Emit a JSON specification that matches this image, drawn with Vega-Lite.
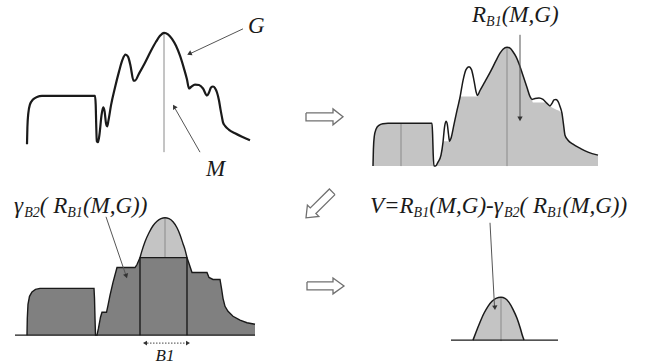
{
  "$schema": "https://vega.github.io/schema/vega-lite/v6.json",
  "width": 646,
  "height": 364,
  "padding": 0,
  "autosize": {"type": "fit", "contains": "padding"},
  "background": "white",
  "config": {"view": {"stroke": null}},
  "encoding": {
    "x": {"field": "x", "type": "quantitative", "scale": {"domain": [0, 646], "nice": false, "zero": false}, "axis": null},
    "y": {"field": "y", "type": "quantitative", "scale": {"domain": [0, 364], "nice": false, "zero": false, "reverse": true}, "axis": null}
  },
  "datasets": {
    "tlCurve": [
      {"x": 27, "y": 145}, {"x": 27.4, "y": 128}, {"x": 28.3, "y": 114}, {"x": 30, "y": 105}, {"x": 33, "y": 100}, {"x": 37, "y": 97.5}, {"x": 42, "y": 96.5}, {"x": 95, "y": 96.5}, {"x": 95.7, "y": 105}, {"x": 96.2, "y": 125}, {"x": 96.8, "y": 142}, {"x": 98, "y": 143}, {"x": 99.5, "y": 135}, {"x": 101.5, "y": 116}, {"x": 103.2, "y": 108}, {"x": 104.6, "y": 112}, {"x": 106, "y": 124}, {"x": 107.2, "y": 127}, {"x": 108.5, "y": 121}, {"x": 111, "y": 106}, {"x": 115, "y": 88}, {"x": 119, "y": 72}, {"x": 122.5, "y": 60}, {"x": 125.5, "y": 55}, {"x": 128, "y": 57}, {"x": 130.5, "y": 66}, {"x": 133.5, "y": 81}, {"x": 135, "y": 81}, {"x": 139, "y": 74}, {"x": 145, "y": 63}, {"x": 151, "y": 51}, {"x": 156, "y": 42}, {"x": 160, "y": 36}, {"x": 164, "y": 33}, {"x": 168, "y": 34.5}, {"x": 172, "y": 39}, {"x": 176, "y": 46}, {"x": 180, "y": 56}, {"x": 184, "y": 69}, {"x": 187, "y": 80}, {"x": 189, "y": 89}, {"x": 191, "y": 87.5}, {"x": 195, "y": 85}, {"x": 199, "y": 85.5}, {"x": 203, "y": 89}, {"x": 207, "y": 96}, {"x": 209, "y": 93}, {"x": 211, "y": 88}, {"x": 213, "y": 87}, {"x": 215, "y": 88.5}, {"x": 217, "y": 93}, {"x": 219, "y": 101}, {"x": 220.5, "y": 110}, {"x": 222, "y": 118}, {"x": 223, "y": 123}, {"x": 225, "y": 126.5}, {"x": 229, "y": 130.5}, {"x": 235, "y": 134}, {"x": 242, "y": 137.5}, {"x": 250, "y": 141}
    ],
    "trOutline": [
      {"x": 373, "y": 167}, {"x": 373.4, "y": 150}, {"x": 374.3, "y": 137}, {"x": 376, "y": 130}, {"x": 379, "y": 126}, {"x": 383, "y": 124.5}, {"x": 388, "y": 124}, {"x": 432, "y": 124}, {"x": 432.6, "y": 135}, {"x": 433.2, "y": 155}, {"x": 434, "y": 167}, {"x": 435.5, "y": 167}, {"x": 438, "y": 163}, {"x": 441, "y": 156}, {"x": 443, "y": 143}, {"x": 444.5, "y": 128}, {"x": 446, "y": 122}, {"x": 447.3, "y": 125}, {"x": 448.5, "y": 135}, {"x": 449.5, "y": 142}, {"x": 451, "y": 139}, {"x": 454, "y": 125}, {"x": 457, "y": 111}, {"x": 460, "y": 98}, {"x": 463, "y": 81}, {"x": 466, "y": 70}, {"x": 469, "y": 67}, {"x": 471.5, "y": 70}, {"x": 474, "y": 81}, {"x": 476, "y": 92}, {"x": 477.5, "y": 96}, {"x": 480, "y": 91}, {"x": 485, "y": 82}, {"x": 491, "y": 71}, {"x": 496, "y": 61}, {"x": 500, "y": 53.5}, {"x": 503, "y": 49.5}, {"x": 507, "y": 47.5}, {"x": 510, "y": 48.5}, {"x": 513, "y": 52}, {"x": 516, "y": 57}, {"x": 519, "y": 64}, {"x": 523, "y": 76}, {"x": 527, "y": 88}, {"x": 530, "y": 97}, {"x": 532, "y": 100}, {"x": 535, "y": 99}, {"x": 539, "y": 98.5}, {"x": 543, "y": 100}, {"x": 547, "y": 104}, {"x": 550, "y": 106.5}, {"x": 552, "y": 104}, {"x": 554, "y": 100.5}, {"x": 556, "y": 100}, {"x": 558, "y": 102}, {"x": 560, "y": 107}, {"x": 562, "y": 114}, {"x": 563.5, "y": 125}, {"x": 565, "y": 136}, {"x": 568, "y": 141}, {"x": 573, "y": 145}, {"x": 580, "y": 149}, {"x": 588, "y": 153}, {"x": 598, "y": 156}
    ],
    "trFill": [
      {"x": 373, "y": 167}, {"x": 373.4, "y": 150}, {"x": 374.3, "y": 137}, {"x": 376, "y": 130}, {"x": 379, "y": 126}, {"x": 383, "y": 124.5}, {"x": 388, "y": 124}, {"x": 432, "y": 124}, {"x": 432.6, "y": 135}, {"x": 433.2, "y": 155}, {"x": 434, "y": 167}, {"x": 435.5, "y": 167}, {"x": 438, "y": 163}, {"x": 441, "y": 156}, {"x": 443, "y": 143}, {"x": 444, "y": 142}, {"x": 449.5, "y": 142}, {"x": 451, "y": 139}, {"x": 454, "y": 125}, {"x": 457, "y": 111}, {"x": 460, "y": 97}, {"x": 477.5, "y": 97}, {"x": 480, "y": 91}, {"x": 485, "y": 82}, {"x": 491, "y": 71}, {"x": 496, "y": 61}, {"x": 500, "y": 53.5}, {"x": 503, "y": 49.5}, {"x": 507, "y": 47.5}, {"x": 510, "y": 48.5}, {"x": 513, "y": 52}, {"x": 516, "y": 57}, {"x": 519, "y": 64}, {"x": 523, "y": 76}, {"x": 527, "y": 88}, {"x": 530, "y": 97}, {"x": 532, "y": 101}, {"x": 533, "y": 103}, {"x": 545, "y": 103}, {"x": 547, "y": 104}, {"x": 550, "y": 106.5}, {"x": 552, "y": 108}, {"x": 556, "y": 110}, {"x": 560, "y": 112}, {"x": 562, "y": 114}, {"x": 563.5, "y": 125}, {"x": 565, "y": 136}, {"x": 568, "y": 141}, {"x": 573, "y": 145}, {"x": 580, "y": 149}, {"x": 588, "y": 153}, {"x": 598, "y": 156}
    ],
    "blDark": [
      {"x": 27, "y": 337}, {"x": 27.3, "y": 320}, {"x": 28, "y": 306}, {"x": 29.5, "y": 298}, {"x": 32, "y": 293.5}, {"x": 35.5, "y": 291}, {"x": 40, "y": 290}, {"x": 94, "y": 290}, {"x": 94.5, "y": 300}, {"x": 95, "y": 320}, {"x": 95.5, "y": 337}, {"x": 97, "y": 337}, {"x": 98.5, "y": 330}, {"x": 100.5, "y": 319}, {"x": 102, "y": 314}, {"x": 106.5, "y": 314}, {"x": 108, "y": 307}, {"x": 110, "y": 297}, {"x": 113, "y": 284}, {"x": 117, "y": 269}, {"x": 135, "y": 269}, {"x": 137, "y": 266}, {"x": 140, "y": 259}, {"x": 187, "y": 259}, {"x": 189, "y": 265}, {"x": 192, "y": 274}, {"x": 207, "y": 274}, {"x": 209, "y": 279}, {"x": 213, "y": 281}, {"x": 220, "y": 281}, {"x": 221.5, "y": 290}, {"x": 223, "y": 300}, {"x": 225, "y": 308}, {"x": 228, "y": 313}, {"x": 233, "y": 318}, {"x": 240, "y": 322}, {"x": 247, "y": 324.5}, {"x": 255, "y": 326}
    ],
    "blPeak": [
      {"x": 140, "y": 259}, {"x": 142, "y": 252}, {"x": 145, "y": 243}, {"x": 149, "y": 234}, {"x": 153, "y": 227}, {"x": 157, "y": 222.5}, {"x": 161, "y": 219.8}, {"x": 165, "y": 219}, {"x": 169, "y": 219.8}, {"x": 173, "y": 223}, {"x": 177, "y": 229}, {"x": 180, "y": 236}, {"x": 183, "y": 245}, {"x": 185, "y": 251}, {"x": 187, "y": 259}
    ],
    "brPeak": [
      {"x": 473, "y": 342}, {"x": 476, "y": 334}, {"x": 480, "y": 324}, {"x": 484, "y": 315}, {"x": 488, "y": 308}, {"x": 492, "y": 303}, {"x": 496, "y": 300}, {"x": 501, "y": 299}, {"x": 505, "y": 300}, {"x": 509, "y": 304}, {"x": 513, "y": 311}, {"x": 517, "y": 320}, {"x": 520, "y": 329}, {"x": 522, "y": 336}, {"x": 524, "y": 342}
    ],
    "greyRules": [
      {"x": 164, "y": 33, "x2": 164, "y2": 153},
      {"x": 401, "y": 124, "x2": 401, "y2": 167},
      {"x": 507, "y": 47.5, "x2": 507, "y2": 167},
      {"x": 165, "y": 219, "x2": 165, "y2": 259},
      {"x": 501, "y": 299, "x2": 501, "y2": 343}
    ],
    "blackRules": [
      {"x": 140, "y": 259, "x2": 140, "y2": 337},
      {"x": 187, "y": 259, "x2": 187, "y2": 337},
      {"x": 15, "y": 337, "x2": 255, "y2": 337},
      {"x": 451, "y": 342, "x2": 558, "y2": 342}
    ],
    "pointers": [
      {"x": 243, "y": 29, "x2": 190, "y2": 54},
      {"x": 200, "y": 153, "x2": 175, "y2": 109},
      {"x": 520, "y": 35, "x2": 520, "y2": 118},
      {"x": 106, "y": 218, "x2": 126, "y2": 277},
      {"x": 490, "y": 224, "x2": 494.5, "y2": 308}
    ],
    "hollow": [
      {"a": "1", "x": 306, "y": 113.5}, {"a": "1", "x": 333, "y": 113.5}, {"a": "1", "x": 333, "y": 109.5}, {"a": "1", "x": 343, "y": 117.5}, {"a": "1", "x": 333, "y": 125.5}, {"a": "1", "x": 333, "y": 121.5}, {"a": "1", "x": 306, "y": 121.5}, {"a": "1", "x": 306, "y": 113.5},
      {"a": "2", "x": 335, "y": 195.7}, {"a": "2", "x": 315.9, "y": 214.7}, {"a": "2", "x": 318.8, "y": 217.6}, {"a": "2", "x": 306, "y": 219}, {"a": "2", "x": 307.4, "y": 206.2}, {"a": "2", "x": 310.3, "y": 209.1}, {"a": "2", "x": 329.4, "y": 190}, {"a": "2", "x": 335, "y": 195.7},
      {"a": "3", "x": 307, "y": 283.5}, {"a": "3", "x": 333, "y": 283.5}, {"a": "3", "x": 333, "y": 279.5}, {"a": "3", "x": 344, "y": 287.5}, {"a": "3", "x": 333, "y": 295.5}, {"a": "3", "x": 333, "y": 291.5}, {"a": "3", "x": 307, "y": 291.5}, {"a": "3", "x": 307, "y": 283.5}
    ],
    "mainText": [
      {"x": 472, "y": 22, "t": "R"}, {"x": 501.7, "y": 22, "t": "(M,G)"},
      {"x": 14, "y": 214, "t": "γ"}, {"x": 39.8, "y": 214, "t": "( R"}, {"x": 82.9, "y": 214, "t": "(M,G))"},
      {"x": 370, "y": 214, "t": "V=R"}, {"x": 429.2, "y": 214, "t": "(M,G)-γ"}, {"x": 519.5, "y": 214, "t": "( R"}, {"x": 562.6, "y": 214, "t": "(M,G))"},
      {"x": 248, "y": 33, "t": "G"}, {"x": 206, "y": 177, "t": "M"}
    ],
    "subText": [
      {"x": 486.1, "y": 26, "t": "B1"}, {"x": 24.2, "y": 218, "t": "B2"}, {"x": 67.3, "y": 218, "t": "B1"},
      {"x": 413.6, "y": 218, "t": "B1"}, {"x": 503.9, "y": 218, "t": "B2"}, {"x": 547, "y": 218, "t": "B1"}
    ]
  },
  "layer": [
    {"data": {"name": "trFill"}, "mark": {"type": "area", "color": "#c4c4c4", "interpolate": "monotone"}, "encoding": {"y2": {"datum": 167}}},
    {"data": {"name": "blDark"}, "mark": {"type": "area", "color": "#808080", "interpolate": "linear"}, "encoding": {"y2": {"datum": 337}}},
    {"data": {"name": "blPeak"}, "mark": {"type": "area", "color": "#c4c4c4", "interpolate": "monotone"}, "encoding": {"y2": {"datum": 259}}},
    {"data": {"name": "brPeak"}, "mark": {"type": "area", "color": "#c4c4c4", "interpolate": "monotone"}, "encoding": {"y2": {"datum": 342}}},
    {"data": {"name": "greyRules"}, "mark": {"type": "rule", "color": "#8a8a8a", "strokeWidth": 1}, "encoding": {"x2": {"field": "x2"}, "y2": {"field": "y2"}}},
    {"data": {"name": "blackRules"}, "mark": {"type": "rule", "color": "#1a1a1a", "strokeWidth": 1.4}, "encoding": {"x2": {"field": "x2"}, "y2": {"field": "y2"}}},
    {"data": {"name": "tlCurve"}, "mark": {"type": "line", "color": "#1a1a1a", "strokeWidth": 2.2, "interpolate": "monotone"}, "encoding": {"order": {"value": null}}},
    {"data": {"name": "trOutline"}, "mark": {"type": "line", "color": "#1a1a1a", "strokeWidth": 1.5, "interpolate": "monotone"}, "encoding": {"order": {"value": null}}},
    {"data": {"name": "blDark"}, "mark": {"type": "line", "color": "#1a1a1a", "strokeWidth": 1.4, "interpolate": "linear"}, "encoding": {"order": {"value": null}}},
    {"data": {"name": "blPeak"}, "mark": {"type": "line", "color": "#1a1a1a", "strokeWidth": 1.4, "interpolate": "monotone"}, "encoding": {"order": {"value": null}}},
    {"data": {"name": "brPeak"}, "mark": {"type": "line", "color": "#1a1a1a", "strokeWidth": 1.5, "interpolate": "monotone"}, "encoding": {"order": {"value": null}}},
    {"data": {"name": "pointers"}, "mark": {"type": "rule", "color": "#555555", "strokeWidth": 1}, "encoding": {"x2": {"field": "x2"}, "y2": {"field": "y2"}}},
    {"data": {"values": [{"x": 189.3, "y": 54}]}, "mark": {"type": "point", "shape": "triangle-up", "filled": true, "opacity": 1, "color": "#333333", "size": 28, "angle": 245}},
    {"data": {"values": [{"x": 174.2, "y": 107.2}]}, "mark": {"type": "point", "shape": "triangle-up", "filled": true, "opacity": 1, "color": "#333333", "size": 28, "angle": 330}},
    {"data": {"values": [{"x": 520, "y": 119.5}]}, "mark": {"type": "point", "shape": "triangle-up", "filled": true, "opacity": 1, "color": "#333333", "size": 28, "angle": 180}},
    {"data": {"values": [{"x": 126.3, "y": 277.6}]}, "mark": {"type": "point", "shape": "triangle-up", "filled": true, "opacity": 1, "color": "#333333", "size": 28, "angle": 162}},
    {"data": {"values": [{"x": 494.9, "y": 309.5}]}, "mark": {"type": "point", "shape": "triangle-up", "filled": true, "opacity": 1, "color": "#333333", "size": 28, "angle": 177}},
    {"data": {"name": "hollow"}, "mark": {"type": "line", "color": "#707070", "strokeWidth": 1.3, "interpolate": "linear"}, "encoding": {"detail": {"field": "a"}, "order": {"value": null}}},
    {"data": {"values": [{"x": 147, "y": 345}, {"x": 186, "y": 345}]}, "mark": {"type": "line", "color": "#444444", "strokeWidth": 1, "strokeDash": [1.5, 1.5]}, "encoding": {"order": {"value": null}}},
    {"data": {"values": [{"x": 145, "y": 345}]}, "mark": {"type": "point", "shape": "triangle-left", "filled": true, "opacity": 1, "color": "#333333", "size": 22}},
    {"data": {"values": [{"x": 188, "y": 345}]}, "mark": {"type": "point", "shape": "triangle-right", "filled": true, "opacity": 1, "color": "#333333", "size": 22}},
    {"data": {"name": "mainText"}, "mark": {"type": "text", "font": "'Liberation Serif', 'Times New Roman', serif", "fontStyle": "italic", "fontSize": 23, "align": "left", "baseline": "alphabetic", "color": "#1a1a1a"}, "encoding": {"text": {"field": "t"}}},
    {"data": {"name": "subText"}, "mark": {"type": "text", "font": "'Liberation Serif', 'Times New Roman', serif", "fontStyle": "italic", "fontSize": 14, "align": "left", "baseline": "alphabetic", "color": "#1a1a1a"}, "encoding": {"text": {"field": "t"}}},
    {"data": {"values": [{"x": 165, "y": 363, "t": "B1"}]}, "mark": {"type": "text", "font": "'Liberation Serif', 'Times New Roman', serif", "fontStyle": "italic", "fontSize": 17, "align": "center", "baseline": "alphabetic", "color": "#1a1a1a"}, "encoding": {"text": {"field": "t"}}}
  ]
}
